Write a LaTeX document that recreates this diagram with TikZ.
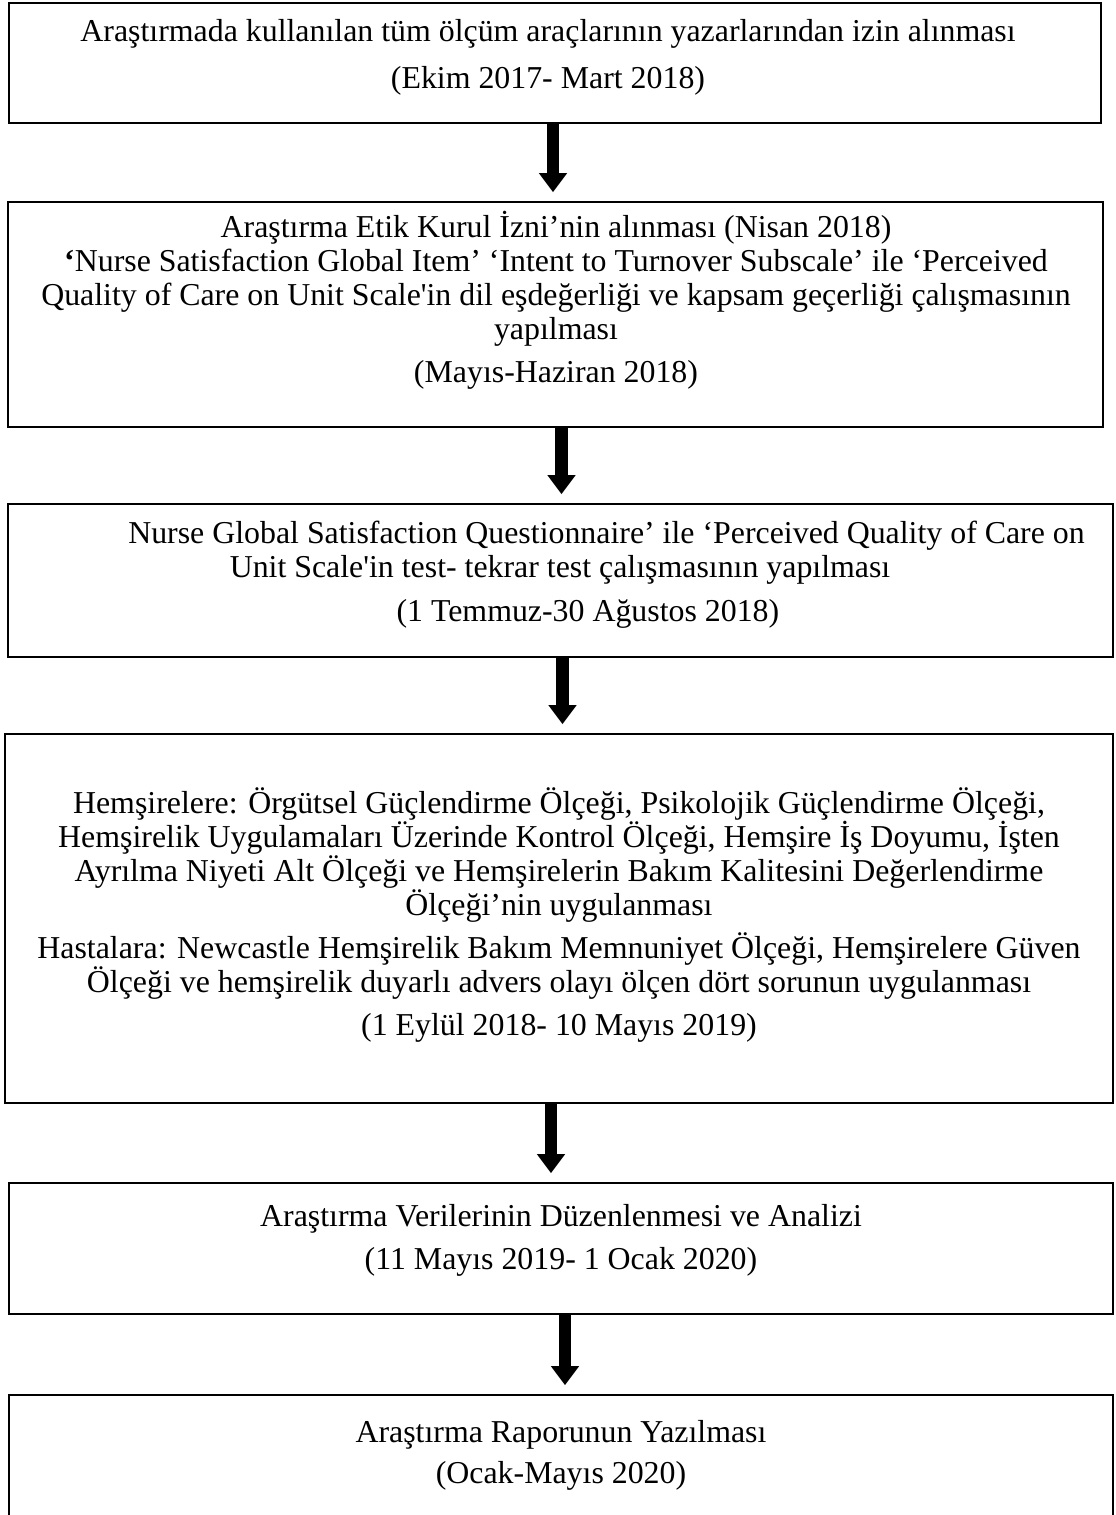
\documentclass[tikz,border=0pt]{standalone}
\usepackage{fontspec}
\setmainfont{Liberation Serif}[Ligatures=TeXOff]
\usetikzlibrary{arrows.meta,positioning}
\def\px{0.43pt}
\tikzset{
  stage/.style={draw, line width=0.65pt, inner sep=0pt},
  stagetext/.style={align=center, inner sep=0pt, font=\fontsize{13.7}{14.6}\selectfont},
  flow/.style={line width=5.2pt, -{Triangle[width=11.6pt,length=8.2pt]}, shorten >=3.9pt},
}
\begin{document}
\begin{tikzpicture}[x=\px,y=-\px]
\useasboundingbox (0,0) rectangle (1116,1515);
% boxes
\node[stage, minimum width=1092*\px, minimum height=120*\px] (s1) at (555,63) {};
\node[stage, minimum width=1095*\px, minimum height=225*\px] (s2) at (555.5,314.5) {};
\node[stage, minimum width=1105*\px, minimum height=153*\px] (s3) at (560.5,580.5) {};
\node[stage, minimum width=1108*\px, minimum height=369*\px] (s4) at (559,918.5) {};
\node[stage, minimum width=1104*\px, minimum height=131*\px] (s5) at (561,1248.5) {};
\node[stage, minimum width=1104*\px, minimum height=140*\px] (s6) at (561,1465) {};
% texts
\node[stagetext] (t1) at (548,57) {Araştırmada kullanılan tüm ölçüm araçlarının yazarlarından izin alınması\\[5.5pt]
  (Ekim 2017- Mart 2018)};
\node[stagetext] (t2) at (556,300) {Araştırma Etik Kurul İzni’nin alınması (Nisan 2018)\\
  \textbf{‘}Nurse Satisfaction Global Item’ ‘Intent to Turnover Subscale’ ile ‘Perceived\\
  Quality of Care on Unit Scale'in dil eşdeğerliği ve kapsam geçerliği çalışmasının\\
  yapılması\\[4pt]
  (Mayıs-Haziran 2018)};
\node[stagetext] (t3) at (560,575) {\hspace*{40pt}Nurse Global Satisfaction Questionnaire’ ile ‘Perceived Quality of Care on\\
  Unit Scale'in test- tekrar test çalışmasının yapılması\\[4.3pt]
  \hspace*{24pt}(1 Temmuz-30 Ağustos 2018)};
\node[stagetext] (t4) at (559,915) {Hemşirelere: Örgütsel Güçlendirme Ölçeği, Psikolojik Güçlendirme Ölçeği,\\
  Hemşirelik Uygulamaları Üzerinde Kontrol Ölçeği, Hemşire İş Doyumu, İşten\\
  Ayrılma Niyeti Alt Ölçeği ve Hemşirelerin Bakım Kalitesini Değerlendirme\\
  Ölçeği’nin uygulanması\\[4pt]
  Hastalara: Newcastle Hemşirelik Bakım Memnuniyet Ölçeği, Hemşirelere Güven\\
  Ölçeği ve hemşirelik duyarlı advers olayı ölçen dört sorunun uygulanması\\[4pt]
  (1 Eylül 2018- 10 Mayıs 2019)};
\node[stagetext] (t5) at (561,1240) {Araştırma Verilerinin Düzenlenmesi ve Analizi\\[4pt]
  (11 Mayıs 2019- 1 Ocak 2020)};
\node[stagetext] (t6) at (561,1455) {Araştırma Raporunun Yazılması\\[3pt]
  (Ocak-Mayıs 2020)};
% arrows
\draw[flow] ([xshift=-2*\px]s1.south) -- ([xshift=-2*\px]s1.south |- s2.north);
\draw[flow] ([xshift=6*\px]s2.south) -- ([xshift=6*\px]s2.south |- s3.north);
\draw[flow] ([xshift=2*\px]s3.south) -- ([xshift=2*\px]s3.south |- s4.north);
\draw[flow] ([xshift=-8*\px]s4.south) -- ([xshift=-8*\px]s4.south |- s5.north);
\draw[flow] ([xshift=4*\px]s5.south) -- ([xshift=4*\px]s5.south |- s6.north);
\end{tikzpicture}
\end{document}
